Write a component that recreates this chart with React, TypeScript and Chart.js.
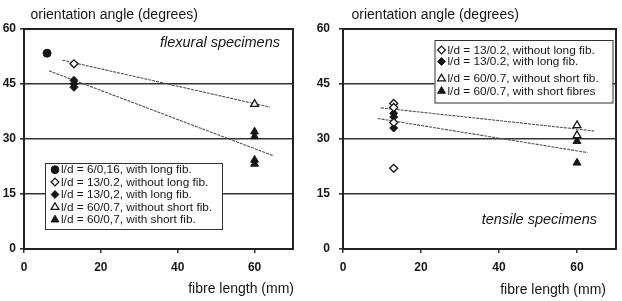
import React, { useEffect, useRef } from "react";
import { Chart, registerables } from "chart.js";

Chart.register(...registerables);

// ---- shared axes ----
const xTickValues = [0, 20, 40, 60];
const yTickValues = [0, 15, 30, 45, 60];
const xMax = 70;
const yMax = 60;

// ---- flexural specimens ----
const flexCircleX = [6];
const flexCircleY = [53.4];
const flexOpenDiamondX = [13];
const flexOpenDiamondY = [50.5];
const flexFilledDiamondX = [13, 13, 13];
const flexFilledDiamondY = [46, 45.1, 44.1];
const flexOpenTriangleX = [60];
const flexOpenTriangleY = [39.5];
const flexFilledTriangleX = [60, 60, 60, 60];
const flexFilledTriangleY = [32, 30.7, 24.3, 23.2];
const flexTrendUpperX = [10, 64];
const flexTrendUpperY = [51.5, 38.7];
const flexTrendLowerX = [6.5, 65];
const flexTrendLowerY = [48.6, 25.4];
const flexLabels = [
  "l/d = 6/0,16, with long fib.",
  "l/d = 13/0.2, without long fib.",
  "l/d = 13/0,2, with long fib.",
  "l/d = 60/0.7, without short fib.",
  "l/d = 60/0,7, with short fib.",
];

// ---- tensile specimens ----
const tensOpenDiamondX = [13, 13, 13, 13];
const tensOpenDiamondY = [39.7, 38.6, 34.5, 22];
const tensFilledDiamondX = [13, 13, 13];
const tensFilledDiamondY = [37, 36, 33];
const tensOpenTriangleX = [60, 60];
const tensOpenTriangleY = [33.7, 31];
const tensFilledTriangleX = [60, 60];
const tensFilledTriangleY = [29.4, 23.5];
const tensTrendUpperX = [9.7, 64.4];
const tensTrendUpperY = [38.5, 32.2];
const tensTrendLowerX = [8.9, 62.7];
const tensTrendLowerY = [35.6, 26.3];
const tensLabels = [
  "l/d = 13/0.2, without long fib.",
  "l/d = 13/0.2, with long fib.",
  "l/d = 60/0.7, without short fib.",
  "l/d = 60/0.7, with short fibres",
];

const FONT = "'Liberation Sans', Arial, sans-serif";
const INK = "#161616";
const GRID = "#333333";

const pts = (xs: number[], ys: number[]) => xs.map((x, i) => ({ x, y: ys[i] }));

type Shape = "circle" | "rectRot" | "triangle";

function markerSet(label: string, shape: Shape, filled: boolean, xs: number[], ys: number[]) {
  const radius = shape === "triangle" ? 4.5 : 4;
  return {
    type: "scatter" as const,
    label,
    data: pts(xs, ys),
    pointStyle: shape,
    pointRadius: radius,
    pointBackgroundColor: filled ? INK : "#ffffff",
    pointBorderColor: INK,
    pointBorderWidth: filled ? 1 : 1.3,
    showLine: false,
    order: 0,
  };
}

function trendSet(xs: number[], ys: number[]) {
  return {
    type: "line" as const,
    label: "",
    data: pts(xs, ys),
    borderColor: "#505050",
    borderWidth: 1.1,
    borderDash: [3, 1],
    pointRadius: 0,
    fill: false,
    order: 5,
  };
}

function drawMarker(ctx: CanvasRenderingContext2D, shape: Shape, filled: boolean, x: number, y: number, r: number) {
  ctx.beginPath();
  if (shape === "circle") {
    ctx.arc(x, y, r, 0, Math.PI * 2);
  } else if (shape === "rectRot") {
    ctx.moveTo(x, y - r);
    ctx.lineTo(x + r, y);
    ctx.lineTo(x, y + r);
    ctx.lineTo(x - r, y);
    ctx.closePath();
  } else {
    for (let k = 0; k < 3; k++) {
      const a = -Math.PI / 2 + (k * 2 * Math.PI) / 3;
      const px = x + Math.cos(a) * r;
      const py = y + Math.sin(a) * r;
      if (k === 0) ctx.moveTo(px, py);
      else ctx.lineTo(px, py);
    }
    ctx.closePath();
  }
  ctx.fillStyle = filled ? INK : "#ffffff";
  ctx.fill();
  ctx.lineWidth = filled ? 1 : 1.3;
  ctx.strokeStyle = INK;
  ctx.stroke();
}

// Frame, titles, caption and the boxed key of each panel
const panelDecor = {
  id: "panelDecor",
  beforeDatasetsDraw(chart: any) {
    const { ctx, chartArea } = chart;
    const { left, right, top, bottom } = chartArea;
    ctx.save();
    ctx.strokeStyle = "#222222";
    ctx.lineWidth = 2;
    ctx.strokeRect(left, top, right - left, bottom - top);
    ctx.restore();
  },
  afterDraw(chart: any, _args: any, opts: any) {
    const { ctx } = chart;
    ctx.save();
    ctx.fillStyle = INK;
    ctx.textBaseline = "middle";

    ctx.font = `14px ${FONT}`;
    ctx.textAlign = "left";
    ctx.fillText(opts.title.text, opts.title.x, opts.title.y);

    ctx.textAlign = "right";
    ctx.fillText(opts.xTitle.text, opts.xTitle.right, opts.xTitle.y);

    ctx.font = `italic 14.5px ${FONT}`;
    ctx.textAlign = "right";
    ctx.fillText(opts.note.text, opts.note.right, opts.note.y);

    const lg = opts.legend;
    ctx.fillStyle = "#ffffff";
    ctx.fillRect(lg.box[0], lg.box[1], lg.box[2], lg.box[3]);
    ctx.strokeStyle = "#333333";
    ctx.lineWidth = 1;
    ctx.strokeRect(lg.box[0] + 0.5, lg.box[1] + 0.5, lg.box[2], lg.box[3]);

    ctx.font = `11.8px ${FONT}`;
    ctx.textAlign = "left";
    lg.rows.forEach((ry: number, i: number) => {
      const ds = chart.data.datasets[i];
      const filled = ds.pointBackgroundColor !== "#ffffff";
      drawMarker(ctx, ds.pointStyle, filled, lg.markerX, ry, ds.pointStyle === "triangle" ? 4.5 : 3.9);
      ctx.fillStyle = INK;
      ctx.fillText(ds.label, lg.textX, ry + 0.5);
    });
    ctx.restore();
  },
};

function baseOptions(yAxisWidth: number, padRight: number, tickPad: number, decor: any) {
  return {
    responsive: false,
    animation: false as const,
    devicePixelRatio: 1,
    layout: { padding: { top: 29, right: padRight, left: 0, bottom: 0 } },
    plugins: {
      legend: { display: false },
      tooltip: { enabled: false },
      panelDecor: decor,
    },
    scales: {
      x: {
        type: "linear" as const,
        min: 0,
        max: xMax,
        afterFit: (s: any) => {
          s.height = 52;
        },
        afterBuildTicks: (s: any) => {
          s.ticks = xTickValues.map((v) => ({ value: v }));
        },
        grid: { drawOnChartArea: false, drawTicks: true, tickLength: 4, color: GRID, lineWidth: 1.5 },
        border: { display: true, color: "#222222", width: 2 },
        ticks: {
          color: INK,
          font: { family: FONT, size: 12, weight: "bold" as const },
          padding: 7,
          maxRotation: 0,
        },
      },
      y: {
        type: "linear" as const,
        min: 0,
        max: yMax,
        afterFit: (s: any) => {
          s.width = yAxisWidth;
        },
        afterBuildTicks: (s: any) => {
          s.ticks = yTickValues.map((v) => ({ value: v }));
        },
        grid: { drawOnChartArea: true, drawTicks: true, tickLength: 4, color: GRID, lineWidth: 1.6 },
        border: { display: true, color: "#222222", width: 2 },
        ticks: {
          color: INK,
          font: { family: FONT, size: 12, weight: "bold" as const },
          padding: tickPad,
        },
      },
    },
  };
}

function Panel({ config }: { config: () => any }) {
  const ref = useRef<HTMLCanvasElement | null>(null);
  useEffect(() => {
    if (!ref.current) return;
    const chart = new Chart(ref.current, config());
    return () => chart.destroy();
  }, [config]);
  return <canvas ref={ref} width={311} height={301} style={{ display: "block", width: 311, height: 301 }} />;
}

const flexConfig = () => ({
  type: "scatter" as const,
  data: {
    datasets: [
      markerSet(flexLabels[0], "circle", true, flexCircleX, flexCircleY),
      markerSet(flexLabels[1], "rectRot", false, flexOpenDiamondX, flexOpenDiamondY),
      markerSet(flexLabels[2], "rectRot", true, flexFilledDiamondX, flexFilledDiamondY),
      markerSet(flexLabels[3], "triangle", false, flexOpenTriangleX, flexOpenTriangleY),
      markerSet(flexLabels[4], "triangle", true, flexFilledTriangleX, flexFilledTriangleY),
      trendSet(flexTrendUpperX, flexTrendUpperY),
      trendSet(flexTrendLowerX, flexTrendLowerY),
    ],
  },
  options: baseOptions(24, 18, 4, {
    title: { text: "orientation angle (degrees)", x: 30.5, y: 15.5 },
    xTitle: { text: "fibre length (mm)", right: 294, y: 289.5 },
    note: { text: "flexural specimens", right: 280, y: 43 },
    legend: {
      box: [45, 163, 177, 66],
      markerX: 55,
      textX: 61,
      rows: [169.7, 182, 194.5, 207.2, 219.7],
    },
  }),
  plugins: [panelDecor],
});

const tensConfig = () => ({
  type: "scatter" as const,
  data: {
    datasets: [
      markerSet(tensLabels[0], "rectRot", false, tensOpenDiamondX, tensOpenDiamondY),
      markerSet(tensLabels[1], "rectRot", true, tensFilledDiamondX, tensFilledDiamondY),
      markerSet(tensLabels[2], "triangle", false, tensOpenTriangleX, tensOpenTriangleY),
      markerSet(tensLabels[3], "triangle", true, tensFilledTriangleX, tensFilledTriangleY),
      trendSet(tensTrendUpperX, tensTrendUpperY),
      trendSet(tensTrendLowerX, tensTrendLowerY),
    ],
  },
  options: baseOptions(32, 6, 9, {
    title: { text: "orientation angle (degrees)", x: 40.5, y: 15.5 },
    xTitle: { text: "fibre length (mm)", right: 295, y: 290 },
    note: { text: "tensile specimens", right: 286, y: 220 },
    legend: {
      box: [123.5, 40, 178, 62.5],
      markerX: 130.5,
      textX: 136.5,
      rows: [50, 61.5, 78.7, 91],
    },
  }),
  plugins: [panelDecor],
});

export default function App() {
  return (
    <div style={{ position: "fixed", left: 0, top: 0, width: 622, height: 301, display: "flex", background: "#ffffff" }}>
      <Panel config={flexConfig} />
      <Panel config={tensConfig} />
    </div>
  );
}
